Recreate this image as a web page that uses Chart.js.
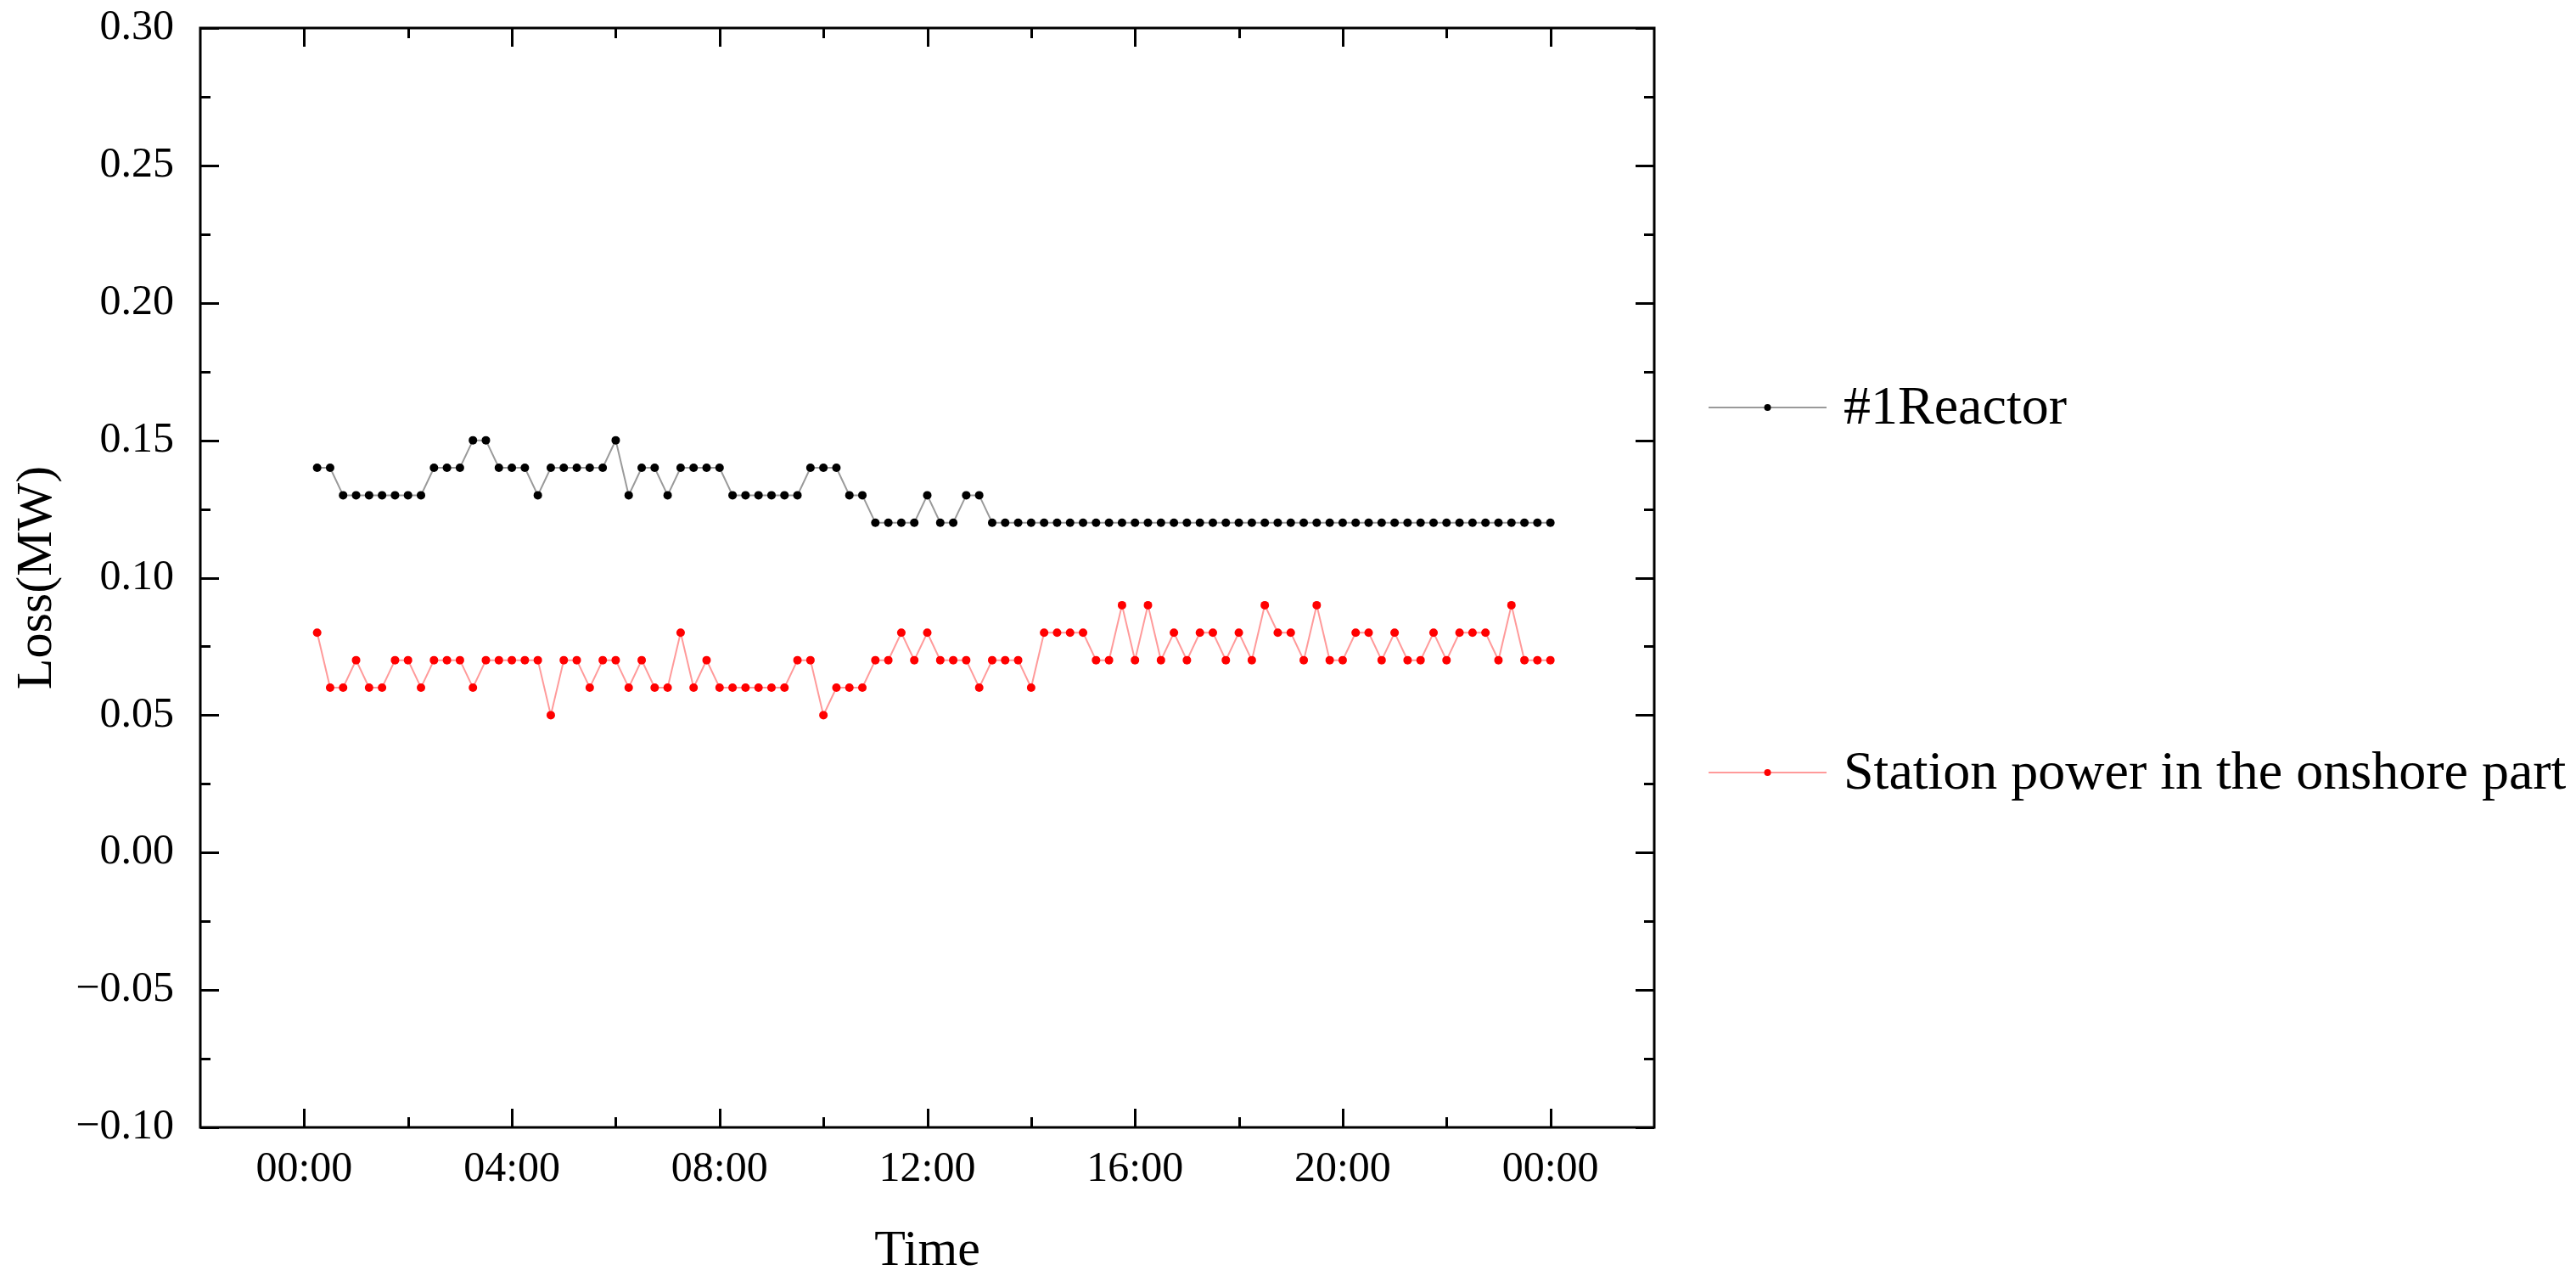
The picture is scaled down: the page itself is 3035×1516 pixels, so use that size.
<!DOCTYPE html>
<html>
<head>
<meta charset="utf-8">
<script src="https://cdn.jsdelivr.net/npm/chart.js@4.4.1/dist/chart.umd.min.js"></script>
<style>
  html, body { margin: 0; padding: 0; background: #fff; }
  #wrap { width: 3035px; height: 1516px; }
</style>
</head>
<body>
<div id="wrap"><canvas id="lossChart" width="3035" height="1516"></canvas></div>
<script>
// time of each sample, in hours (one reading every 15 minutes, 00:15 .. 24:00)
const times = Array.from({ length: 96 }, (_, i) => (i + 1) * 0.25);

const seriesNames = ['#1Reactor', 'Station power in the onshore part'];

const reactor = [
  0.14,0.14,0.13,0.13,0.13,0.13,0.13,0.13,0.13,0.14,0.14,0.14,
  0.15,0.15,0.14,0.14,0.14,0.13,0.14,0.14,0.14,0.14,0.14,0.15,
  0.13,0.14,0.14,0.13,0.14,0.14,0.14,0.14,0.13,0.13,0.13,0.13,
  0.13,0.13,0.14,0.14,0.14,0.13,0.13,0.12,0.12,0.12,0.12,0.13,
  0.12,0.12,0.13,0.13,0.12,0.12,0.12,0.12,0.12,0.12,0.12,0.12,
  0.12,0.12,0.12,0.12,0.12,0.12,0.12,0.12,0.12,0.12,0.12,0.12,
  0.12,0.12,0.12,0.12,0.12,0.12,0.12,0.12,0.12,0.12,0.12,0.12,
  0.12,0.12,0.12,0.12,0.12,0.12,0.12,0.12,0.12,0.12,0.12,0.12
];

const station = [
  0.08,0.06,0.06,0.07,0.06,0.06,0.07,0.07,0.06,0.07,0.07,0.07,
  0.06,0.07,0.07,0.07,0.07,0.07,0.05,0.07,0.07,0.06,0.07,0.07,
  0.06,0.07,0.06,0.06,0.08,0.06,0.07,0.06,0.06,0.06,0.06,0.06,
  0.06,0.07,0.07,0.05,0.06,0.06,0.06,0.07,0.07,0.08,0.07,0.08,
  0.07,0.07,0.07,0.06,0.07,0.07,0.07,0.06,0.08,0.08,0.08,0.08,
  0.07,0.07,0.09,0.07,0.09,0.07,0.08,0.07,0.08,0.08,0.07,0.08,
  0.07,0.09,0.08,0.08,0.07,0.09,0.07,0.07,0.08,0.08,0.07,0.08,
  0.07,0.07,0.08,0.07,0.08,0.08,0.08,0.07,0.09,0.07,0.07,0.07
];

const xTickValues = [0, 4, 8, 12, 16, 20, 24];
const xTickLabels = ['00:00', '04:00', '08:00', '12:00', '16:00', '20:00', '00:00'];
const yTickValues = [-0.10, -0.05, 0.00, 0.05, 0.10, 0.15, 0.20, 0.25, 0.30];
const yTickLabels = ['\u22120.10', '\u22120.05', '0.00', '0.05', '0.10', '0.15', '0.20', '0.25', '0.30'];

const FONT = "'Liberation Serif', 'Times New Roman', serif";
Chart.defaults.color = '#000';
Chart.defaults.font.family = FONT;

function pairs(ys) {
  return ys.map((v, i) => ({ x: times[i], y: v }));
}

function midpoints(vals) {
  const out = [];
  for (let i = 0; i < vals.length - 1; i++) out.push((vals[i] + vals[i + 1]) / 2);
  return out;
}

// box around the plot with inward ticks on all four sides
const framePlugin = {
  id: 'frame',
  afterDraw(chart) {
    const { ctx, chartArea: a, scales } = chart;
    const x = scales.x, y = scales.y;
    ctx.save();
    ctx.strokeStyle = '#000';
    ctx.lineWidth = 3;
    ctx.beginPath();
    const xt = (v, len) => {
      const px = Math.round(x.getPixelForValue(v)) + 0.5;
      ctx.moveTo(px, a.bottom); ctx.lineTo(px, a.bottom - len);
      ctx.moveTo(px, a.top); ctx.lineTo(px, a.top + len);
    };
    const yt = (v, len) => {
      const py = Math.round(y.getPixelForValue(v)) + 0.5;
      ctx.moveTo(a.left, py); ctx.lineTo(a.left + len, py);
      ctx.moveTo(a.right, py); ctx.lineTo(a.right - len, py);
    };
    xTickValues.forEach(v => xt(v, 22));
    midpoints(xTickValues).forEach(v => xt(v, 12));
    yTickValues.forEach(v => yt(v, 22));
    midpoints(yTickValues).forEach(v => yt(v, 12));
    ctx.stroke();
    ctx.strokeRect(a.left, a.top, a.right - a.left, a.bottom - a.top);
    ctx.restore();
  }
};

// legend on the right: line with a dot, then the series name
const legendPlugin = {
  id: 'sideLegend',
  afterDraw(chart) {
    const { ctx, chartArea: a } = chart;
    const rows = [a.top + 447, a.top + 877];
    ctx.save();
    chart.data.datasets.forEach((ds, i) => {
      const yy = rows[i];
      const x0 = a.right + 64, x1 = a.right + 203;
      ctx.strokeStyle = ds.borderColor;
      ctx.lineWidth = 2;
      ctx.beginPath();
      ctx.moveTo(x0, yy); ctx.lineTo(x1, yy);
      ctx.stroke();
      ctx.fillStyle = ds.pointBackgroundColor;
      ctx.beginPath();
      ctx.arc((x0 + x1) / 2, yy, 4, 0, Math.PI * 2);
      ctx.fill();
      ctx.fillStyle = '#000';
      ctx.font = '64px ' + FONT;
      ctx.textBaseline = 'middle';
      ctx.textAlign = 'left';
      ctx.fillText(ds.label, a.right + 223, yy + 2);
    });
    ctx.restore();
  }
};

new Chart(document.getElementById('lossChart'), {
  type: 'line',
  data: {
    datasets: [
      {
        label: seriesNames[0],
        data: pairs(reactor),
        borderColor: '#9a9a9a',
        borderWidth: 2,
        pointBackgroundColor: '#000',
        pointBorderWidth: 0,
        pointRadius: 5,
        tension: 0
      },
      {
        label: seriesNames[1],
        data: pairs(station),
        borderColor: '#ff9a9a',
        borderWidth: 2,
        pointBackgroundColor: '#ff0000',
        pointBorderWidth: 0,
        pointRadius: 5,
        tension: 0
      }
    ]
  },
  options: {
    responsive: false,
    animation: false,
    devicePixelRatio: 1,
    layout: { padding: { left: 0, right: 1086, top: 33, bottom: 0 } },
    plugins: {
      legend: { display: false },
      tooltip: { enabled: false }
    },
    scales: {
      x: {
        type: 'linear',
        min: -2,
        max: 26,
        grid: { display: false },
        border: { display: false },
        afterBuildTicks: s => { s.ticks = xTickValues.map(v => ({ value: v })); },
        afterFit: s => { s.height = 188; },
        ticks: {
          font: { size: 50 },
          padding: 12,
          maxRotation: 0,
          callback: v => xTickLabels[xTickValues.indexOf(v)]
        },
        title: {
          display: true,
          text: 'Time',
          font: { size: 60 },
          padding: { top: 0, bottom: 6 }
        }
      },
      y: {
        min: -0.1,
        max: 0.3,
        grid: { display: false },
        border: { display: false },
        afterBuildTicks: s => { s.ticks = yTickValues.map(v => ({ value: v })); },
        afterFit: s => { s.width = 236; s.paddingTop = 0; s.paddingBottom = 0; },
        ticks: {
          font: { size: 50, lineHeight: 0.2 },
          padding: 23,
          callback: (v, i) => yTickLabels[i]
        },
        title: {
          display: true,
          text: 'Loss(MW)',
          font: { size: 60 },
          padding: { top: 8, bottom: 0 }
        }
      }
    }
  },
  plugins: [framePlugin, legendPlugin]
});
</script>
</body>
</html>
